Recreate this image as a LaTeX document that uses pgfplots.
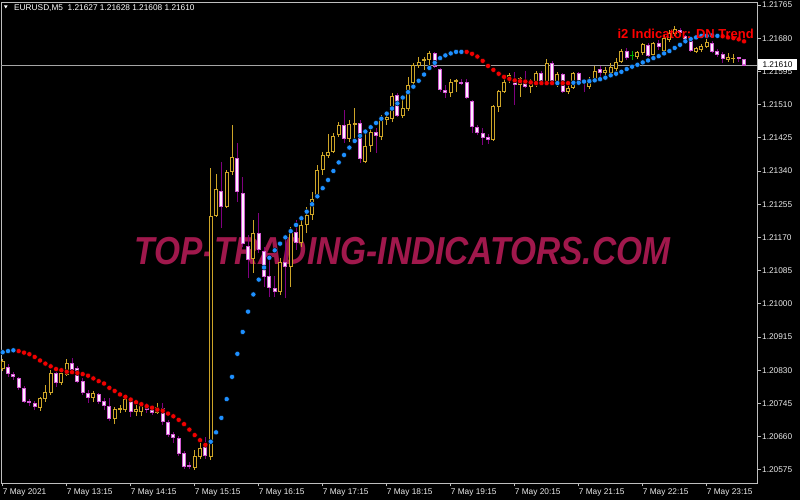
\documentclass[border=0pt]{standalone}
\usepackage{pgfplots}
\pgfplotsset{compat=1.18}
\usepackage{pgfplotstable}
\usepackage{fontspec}
\setmainfont{Liberation Sans}
\definecolor{goldc}{RGB}{205,165,40}
\definecolor{bearedge}{RGB}{210,90,210}
\definecolor{bearfill}{RGB}{255,238,255}
\definecolor{bearwick}{RGB}{128,0,128}
\definecolor{dojigreen}{RGB}{0,170,0}
\definecolor{dotblue}{RGB}{30,144,255}
\definecolor{dotred}{RGB}{240,0,0}
\definecolor{axisgray}{RGB}{190,190,190}
\definecolor{pricegray}{RGB}{165,165,165}
\definecolor{wm}{RGB}{160,24,76}
\definecolor{tickwhite}{RGB}{235,235,235}

\pgfplotstableread{
i o h l c
0 1.20833 1.20859 1.20828 1.20854
7 1.20733 1.20762 1.20726 1.20759
8 1.20756 1.20792 1.20749 1.20774
9 1.20772 1.20831 1.20767 1.20823
11 1.20797 1.20833 1.20792 1.20823
12 1.20818 1.20859 1.20815 1.20849
17 1.20759 1.20777 1.20749 1.20772
21 1.20705 1.20736 1.20692 1.20731
22 1.20728 1.20741 1.20721 1.20733
23 1.20728 1.20767 1.20723 1.20756
25 1.20723 1.20741 1.20713 1.20731
26 1.20723 1.20746 1.20713 1.20738
29 1.20721 1.20746 1.20718 1.20736
36 1.20580 1.20626 1.20575 1.20610
37 1.20608 1.20646 1.20603 1.20631
39 1.20608 1.21348 1.20600 1.21225
40 1.21225 1.21332 1.21222 1.21294
42 1.21248 1.21343 1.21245 1.21338
43 1.21338 1.21458 1.21330 1.21376
47 1.21115 1.21215 1.21079 1.21181
52 1.21030 1.21117 1.21023 1.21107
54 1.21094 1.21197 1.21043 1.21184
56 1.21156 1.21215 1.21146 1.21202
57 1.21202 1.21248 1.21181 1.21227
58 1.21227 1.21286 1.21215 1.21268
59 1.21276 1.21355 1.21271 1.21343
60 1.21343 1.21389 1.21330 1.21381
61 1.21378 1.21435 1.21373 1.21389
62 1.21389 1.21437 1.21386 1.21430
63 1.21432 1.21465 1.21427 1.21458
65 1.21422 1.21471 1.21414 1.21460
66 1.21458 1.21501 1.21419 1.21463
68 1.21363 1.21437 1.21360 1.21404
69 1.21404 1.21453 1.21389 1.21440
71 1.21427 1.21483 1.21419 1.21473
72 1.21471 1.21491 1.21458 1.21478
73 1.21473 1.21540 1.21465 1.21532
75 1.21481 1.21522 1.21476 1.21501
76 1.21499 1.21581 1.21494 1.21560
77 1.21565 1.21617 1.21560 1.21611
78 1.21609 1.21632 1.21604 1.21619
79 1.21622 1.21632 1.21599 1.21627
80 1.21624 1.21647 1.21604 1.21642
84 1.21540 1.21576 1.21530 1.21568
85 1.21568 1.21576 1.21542 1.21573
92 1.21419 1.21509 1.21417 1.21506
93 1.21504 1.21547 1.21491 1.21545
94 1.21542 1.21581 1.21540 1.21568
95 1.21573 1.21591 1.21565 1.21586
97 1.21560 1.21581 1.21530 1.21578
99 1.21555 1.21576 1.21540 1.21565
100 1.21563 1.21596 1.21555 1.21591
102 1.21565 1.21627 1.21563 1.21617
104 1.21565 1.21593 1.21555 1.21588
106 1.21542 1.21560 1.21537 1.21553
107 1.21553 1.21593 1.21550 1.21591
110 1.21555 1.21581 1.21550 1.21576
111 1.21573 1.21609 1.21568 1.21596
113 1.21591 1.21606 1.21581 1.21599
114 1.21591 1.21617 1.21586 1.21606
115 1.21601 1.21629 1.21593 1.21619
116 1.21619 1.21652 1.21617 1.21647
119 1.21632 1.21647 1.21627 1.21645
120 1.21642 1.21668 1.21637 1.21665
122 1.21637 1.21670 1.21634 1.21668
124 1.21647 1.21688 1.21645 1.21681
125 1.21675 1.21701 1.21670 1.21693
126 1.21691 1.21711 1.21686 1.21704
130 1.21645 1.21657 1.21642 1.21655
131 1.21650 1.21665 1.21645 1.21660
132 1.21657 1.21678 1.21655 1.21670
136 1.21624 1.21642 1.21619 1.21632
137 1.21627 1.21640 1.21617 1.21629
}\bull

\pgfplotstableread{
i o h l c
1 1.20838 1.20846 1.20813 1.20820
2 1.20820 1.20825 1.20805 1.20813
3 1.20810 1.20813 1.20779 1.20785
4 1.20785 1.20790 1.20746 1.20749
5 1.20751 1.20756 1.20738 1.20746
6 1.20746 1.20751 1.20728 1.20736
10 1.20823 1.20833 1.20787 1.20797
13 1.20849 1.20861 1.20825 1.20831
14 1.20836 1.20841 1.20797 1.20800
15 1.20802 1.20810 1.20767 1.20772
16 1.20772 1.20779 1.20746 1.20759
18 1.20769 1.20772 1.20744 1.20749
19 1.20751 1.20759 1.20728 1.20738
20 1.20738 1.20759 1.20700 1.20705
24 1.20754 1.20759 1.20710 1.20723
27 1.20736 1.20746 1.20721 1.20728
28 1.20733 1.20741 1.20715 1.20721
30 1.20733 1.20746 1.20690 1.20697
31 1.20697 1.20703 1.20659 1.20664
32 1.20667 1.20672 1.20644 1.20657
33 1.20657 1.20662 1.20610 1.20616
34 1.20618 1.20623 1.20577 1.20582
35 1.20587 1.20595 1.20577 1.20582
38 1.20636 1.20659 1.20603 1.20610
41 1.21289 1.21363 1.21194 1.21248
44 1.21373 1.21412 1.21261 1.21286
45 1.21284 1.21325 1.21146 1.21153
46 1.21148 1.21176 1.21066 1.21112
48 1.21181 1.21233 1.21130 1.21138
49 1.21135 1.21146 1.21043 1.21069
50 1.21071 1.21112 1.21017 1.21041
51 1.21041 1.21071 1.21017 1.21030
53 1.21107 1.21171 1.21015 1.21094
55 1.21184 1.21215 1.21138 1.21156
64 1.21458 1.21496 1.21412 1.21422
67 1.21463 1.21471 1.21360 1.21371
70 1.21440 1.21450 1.21386 1.21430
74 1.21535 1.21540 1.21478 1.21481
81 1.21642 1.21645 1.21604 1.21606
82 1.21601 1.21604 1.21542 1.21547
83 1.21547 1.21560 1.21527 1.21540
86 1.21568 1.21576 1.21560 1.21563
87 1.21568 1.21576 1.21524 1.21527
88 1.21519 1.21522 1.21437 1.21453
89 1.21453 1.21458 1.21432 1.21437
90 1.21437 1.21450 1.21407 1.21425
91 1.21427 1.21435 1.21409 1.21419
96 1.21576 1.21593 1.21509 1.21560
98 1.21573 1.21596 1.21553 1.21555
101 1.21591 1.21596 1.21560 1.21565
103 1.21617 1.21622 1.21563 1.21565
105 1.21588 1.21591 1.21540 1.21542
108 1.21591 1.21593 1.21563 1.21568
109 1.21573 1.21576 1.21542 1.21568
112 1.21601 1.21609 1.21581 1.21591
117 1.21647 1.21655 1.21624 1.21629
121 1.21663 1.21668 1.21632 1.21634
123 1.21668 1.21675 1.21650 1.21657
127 1.21701 1.21706 1.21688 1.21693
128 1.21686 1.21688 1.21668 1.21673
129 1.21673 1.21681 1.21645 1.21647
133 1.21668 1.21673 1.21642 1.21645
134 1.21647 1.21652 1.21632 1.21637
135 1.21640 1.21645 1.21617 1.21627
138 1.21632 1.21632 1.21619 1.21627
139 1.21627 1.21628 1.21608 1.21610
}\bear

\pgfplotstableread{
i o h l c
118 1.21634 1.21647 1.21624 1.21637
}\doji

\pgfplotstableread{
i v
0 1.20876
1 1.20879
2 1.20881
39 1.20647
40 1.20671
41 1.20708
42 1.20756
43 1.20813
44 1.20872
45 1.20928
46 1.20980
47 1.21024
48 1.21062
49 1.21093
50 1.21118
51 1.21137
52 1.21154
53 1.21170
54 1.21186
55 1.21202
56 1.21219
57 1.21236
58 1.21255
59 1.21275
60 1.21296
61 1.21317
62 1.21340
63 1.21362
64 1.21381
65 1.21400
66 1.21417
67 1.21430
68 1.21441
69 1.21452
70 1.21463
71 1.21474
72 1.21487
73 1.21500
74 1.21513
75 1.21528
76 1.21542
77 1.21556
78 1.21571
79 1.21587
80 1.21604
81 1.21617
82 1.21629
83 1.21636
84 1.21641
85 1.21645
86 1.21645
104 1.21565
107 1.21566
108 1.21566
109 1.21569
110 1.21570
111 1.21572
112 1.21575
113 1.21579
114 1.21585
115 1.21589
116 1.21594
117 1.21601
118 1.21607
119 1.21612
120 1.21618
121 1.21623
122 1.21629
123 1.21634
124 1.21641
125 1.21647
126 1.21655
127 1.21663
128 1.21672
129 1.21678
130 1.21682
131 1.21686
132 1.21686
133 1.21687
134 1.21686
}\bluedots

\pgfplotstableread{
i v
3 1.20879
4 1.20875
5 1.20871
6 1.20864
7 1.20855
8 1.20847
9 1.20840
10 1.20833
11 1.20830
12 1.20826
13 1.20825
14 1.20823
15 1.20820
16 1.20816
17 1.20809
18 1.20802
19 1.20796
20 1.20785
21 1.20777
22 1.20768
23 1.20762
24 1.20755
25 1.20748
26 1.20743
27 1.20738
28 1.20734
29 1.20729
30 1.20726
31 1.20719
32 1.20712
33 1.20703
34 1.20692
35 1.20678
36 1.20664
37 1.20651
38 1.20639
87 1.21645
88 1.21640
89 1.21633
90 1.21622
91 1.21609
92 1.21599
93 1.21589
94 1.21581
95 1.21576
96 1.21572
97 1.21570
98 1.21569
99 1.21567
100 1.21565
101 1.21565
102 1.21565
103 1.21565
105 1.21565
106 1.21565
135 1.21685
136 1.21682
137 1.21680
138 1.21677
139 1.21672
}\reddots

\begin{document}
\begin{tikzpicture}[x=1pt,y=1pt]
\useasboundingbox (0,0) rectangle (800,500);
\fill[black] (0,0) rectangle (800,500);
% watermark (behind the chart)
\node[text=wm, font=\bfseries\itshape\fontsize{39}{39}\selectfont, xscale=0.858, inner sep=0pt] at (402.5,249) {TOP-TRADING-INDICATORS.COM};

\begin{axis}[
  at={(1pt,498pt)}, anchor=north west,
  scale only axis, width=756pt, height=481pt,
  xmin=-0.319, xmax=141.43,
  ymin=1.205413, ymax=1.217727,
  axis line style={draw=axisgray, line width=0.8pt},
  tick align=outside,
  xtick pos=bottom, ytick pos=right,
  yticklabel pos=right,
  major tick length=3.5pt,
  tick style={draw=axisgray, line width=0.8pt},
  scaled y ticks=false,
  xtick={0,12,24,36,48,60,72,84,96,108,120,132},
  xticklabels={7 May 2021,7 May 13:15,7 May 14:15,7 May 15:15,7 May 16:15,7 May 17:15,7 May 18:15,7 May 19:15,7 May 20:15,7 May 21:15,7 May 22:15,7 May 23:15},
  ytick={1.20575,1.20660,1.20745,1.20830,1.20915,1.21000,1.21085,1.21170,1.21255,1.21340,1.21425,1.21510,1.21595,1.21680,1.21765},
  yticklabels={1.20575,1.20660,1.20745,1.20830,1.20915,1.21000,1.21085,1.21170,1.21255,1.21340,1.21425,1.21510,1.21595,1.21680,1.21765},
  ticklabel style={text=tickwhite, font=\fontsize{8.3}{9}\selectfont},
  xticklabel style={anchor=north west, inner sep=0pt, yshift=-2pt},
  yticklabel style={anchor=west, inner sep=0pt, xshift=1.5pt},
]
% bid line
\addplot[draw=pricegray, line width=1pt] coordinates {(-0.319,1.21610) (141.43,1.21610)};

% wicks
\addplot[goldc, line width=1pt, quiver={u=0, v=\thisrow{h}-\thisrow{l}}] table[x=i, y=l] {\bull};
\addplot[bearwick, line width=1pt, quiver={u=0, v=\thisrow{h}-\thisrow{l}}] table[x=i, y=l] {\bear};
\addplot[dojigreen, line width=1pt, quiver={u=0, v=\thisrow{h}-\thisrow{l}}] table[x=i, y=l] {\doji};

% bull bodies (hollow)
\addplot[goldc, line width=4pt, line cap=butt, quiver={u=0, v=\thisrow{c}-\thisrow{o}}] table[x=i, y=o] {\bull};
\addplot[black, line width=2pt, line cap=butt, quiver={u=0, v={max(\thisrow{c}-\thisrow{o}-0.00006,0)}}] table[x=i, y expr=\thisrow{o}+0.00003] {\bull};

% bear bodies (filled)
\addplot[bearedge, line width=4pt, line cap=butt, quiver={u=0, v=\thisrow{o}-\thisrow{c}}] table[x=i, y=c] {\bear};
\addplot[bearfill, line width=2pt, line cap=butt, quiver={u=0, v={max(\thisrow{o}-\thisrow{c}-0.00006,0)}}] table[x=i, y expr=\thisrow{c}+0.00003] {\bear};

% doji
\addplot[dojigreen, line width=4pt, line cap=butt, quiver={u=0, v=\thisrow{c}-\thisrow{o}}] table[x=i, y=o] {\doji};

% i2 trend dots
\addplot[only marks, mark=*, mark size=2.6pt, mark options={fill=dotblue, draw=none}] table[x=i, y=v] {\bluedots};
\addplot[only marks, mark=*, mark size=2.6pt, mark options={fill=dotred, draw=none}] table[x=i, y=v] {\reddots};
\end{axis}

% header
\fill[white] (4,494.5) -- (7.6,494.5) -- (5.8,491.5) -- cycle;
\node[anchor=base west, inner sep=0pt, text=white, font=\fontsize{8.3}{9}\selectfont] at (14,489.3) {EURUSD,M5\ \ 1.21627 1.21628 1.21608 1.21610};

% indicator label
\node[anchor=base east, inner sep=0pt, text=red, font=\bfseries\fontsize{13}{14}\selectfont] at (754,461.5) {i2 Indicator: DN Trend};

% current price box
\fill[white] (758,440.5) rectangle (797,430);
\node[anchor=center, inner sep=0pt, text=black, font=\fontsize{8.3}{9}\selectfont] at (777.5,435.2) {1.21610};
\end{tikzpicture}
\end{document}
